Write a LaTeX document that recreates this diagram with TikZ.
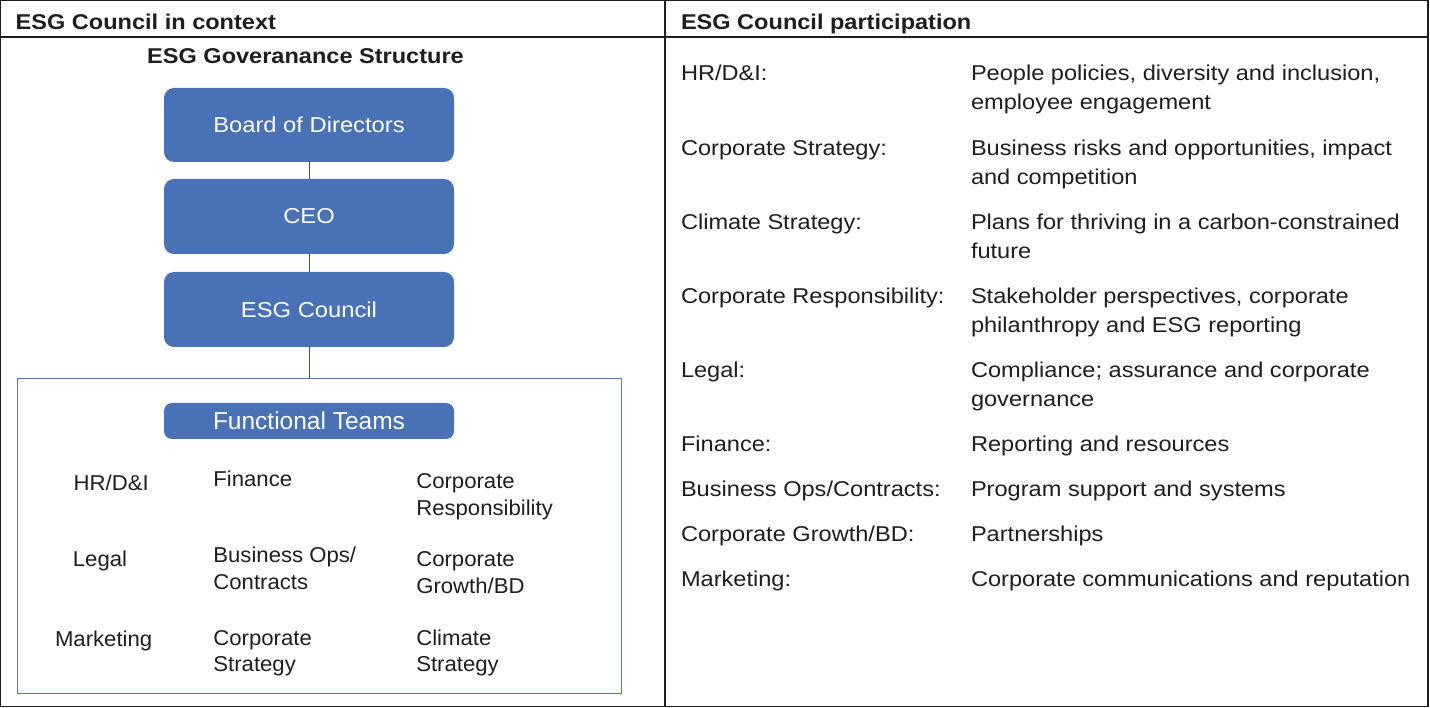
\documentclass[tikz,border=0pt]{standalone}
\usepackage{fontspec}
\setmainfont{Liberation Sans}[FakeStretch=1.1]
\newfontfamily\teamfont{Liberation Sans}[FakeStretch=1.03]
\newfontfamily\ftfont{Liberation Sans}
\definecolor{boxblue}{RGB}{72,113,182}
\definecolor{linkc}{RGB}{60,80,115}
\definecolor{contc}{RGB}{88,118,165}
\definecolor{ink}{RGB}{30,30,30}
\newcommand{\twoline}[3]{\vtop{\baselineskip=#1\relax\hbox{#2}\hbox{#3}}}
\begin{document}
\begin{tikzpicture}[x=1pt,y=-1pt,
  every node/.style={inner sep=0pt,outer sep=0pt},
  hdr/.style={font=\fontsize{21.4}{26}\selectfont\bfseries,anchor=base west,text=ink},
  lbl/.style={font=\fontsize{21.45}{29}\selectfont,anchor=base west,text=ink},
  team/.style={font=\teamfont\fontsize{21.5}{26.7}\selectfont,anchor=base west,text=ink},
  govbox/.style={fill=boxblue,rounded corners=10pt,minimum width=290pt,minimum height=75pt,text=white,font=\fontsize{21.6}{26}\selectfont},
  ftbox/.style={fill=boxblue,rounded corners=8pt,minimum width=290pt,minimum height=36pt,text=white,font=\ftfont\fontsize{24.5}{28}\selectfont},
  link/.style={draw=linkc,line width=1pt},
  frame/.style={draw=ink,line width=1.4pt}]
\useasboundingbox (0,0) rectangle (1430,708);
% table frame
\draw[frame] (0.7,0.7) rectangle (1428,706.3);
\draw[frame] (0,37) -- (1428,37);
\draw[frame] (665,0) -- (665,706.3);
% headers
\node[hdr] (hleft) at (15.7,29.3) {ESG Council in context};
\node[hdr] (hright) at (681,29.3) {ESG Council participation};
\node[hdr,anchor=base] (gtitle) at (305.5,63.3) {ESG Goveranance Structure};
% governance boxes
\node[govbox,minimum height=74pt] (board) at (309,125) {Board of Directors};
\node[govbox] (ceo) at (309,216.5) {CEO};
\node[govbox] (esg) at (309,309.5) {ESG Council};
\node[draw=contc,line width=0.9pt,minimum width=604pt,minimum height=315pt] (teams) at (319,535.5) {};
\node[ftbox] (ft) at (309,421) {Functional Teams};
\draw[link] (board) -- (ceo);
\draw[link] (ceo) -- (esg);
\draw[link] (esg.south) -- (esg.south |- teams.north);
% team labels
\node[team] (t1) at (73.7,490) {HR/D\&I};
\node[team] (t2) at (213.4,486.7) {Finance};
\node[team] (t3) at (416.3,488.3) {\twoline{26.7pt}{Corporate}{Responsibility}};
\node[team] (t4) at (72.9,566.7) {Legal};
\node[team] (t5) at (213.4,562.7) {\twoline{26.7pt}{Business Ops/}{Contracts}};
\node[team] (t6) at (416.3,566.7) {\twoline{26.7pt}{Corporate}{Growth/BD}};
\node[team] (t7) at (55,646) {Marketing};
\node[team] (t8) at (213.4,645) {\twoline{26.7pt}{Corporate}{Strategy}};
\node[team] (t9) at (416.3,645) {\twoline{26.7pt}{Climate}{Strategy}};
% participation table
\node[lbl] (p1) at (681,81) {HR/D\&I:};
\node[lbl] (d1) at (971,81) {\twoline{29pt}{People policies, diversity and inclusion,}{employee engagement}};
\node[lbl] (p2) at (681,155.2) {Corporate Strategy:};
\node[lbl] (d2) at (971,155.2) {\twoline{29pt}{Business risks and opportunities, impact}{and competition}};
\node[lbl] (p3) at (681,229.4) {Climate Strategy:};
\node[lbl] (d3) at (971,229.4) {\twoline{29pt}{Plans for thriving in a carbon-constrained}{future}};
\node[lbl] (p4) at (681,303.6) {Corporate Responsibility:};
\node[lbl] (d4) at (971,303.6) {\twoline{29pt}{Stakeholder perspectives, corporate}{philanthropy and ESG reporting}};
\node[lbl] (p5) at (681,377.8) {Legal:};
\node[lbl] (d5) at (971,377.8) {\twoline{29pt}{Compliance; assurance and corporate}{governance}};
\node[lbl] (p6) at (681,452) {Finance:};
\node[lbl] (d6) at (971,452) {Reporting and resources};
\node[lbl] (p7) at (681,496.7) {Business Ops/Contracts:};
\node[lbl] (d7) at (971,496.7) {Program support and systems};
\node[lbl] (p8) at (681,541.4) {Corporate Growth/BD:};
\node[lbl] (d8) at (971,541.4) {Partnerships};
\node[lbl] (p9) at (681,586) {Marketing:};
\node[lbl] (d9) at (971,586) {Corporate communications and reputation};
\end{tikzpicture}
\end{document}
